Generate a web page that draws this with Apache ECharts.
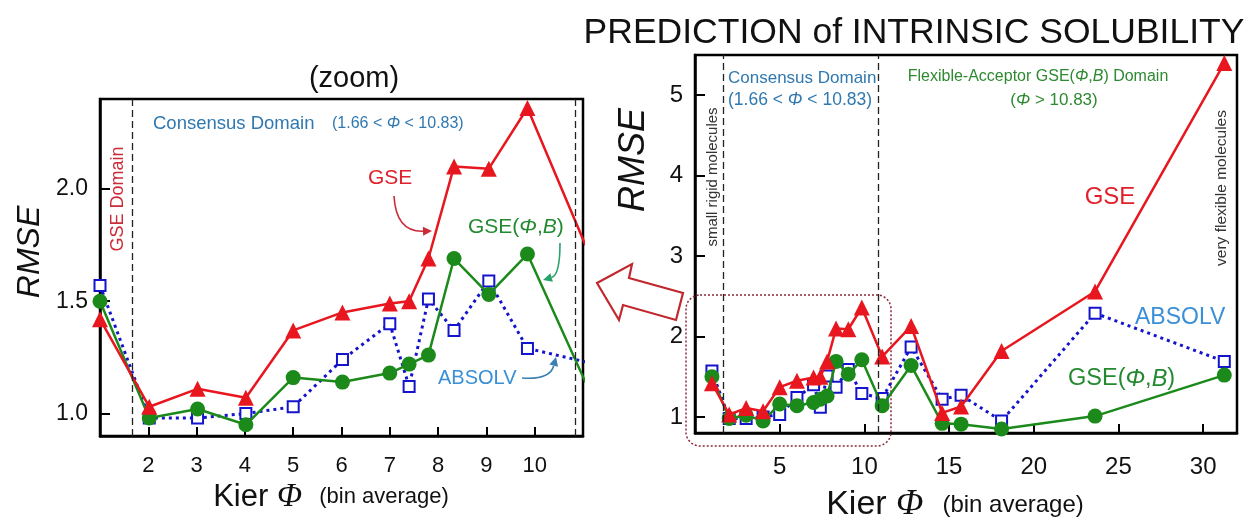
<!DOCTYPE html>
<html><head><meta charset="utf-8">
<script src="https://cdn.jsdelivr.net/npm/echarts@6/dist/echarts.min.js"></script>
<style>html,body{margin:0;padding:0;background:#fff}#c{width:1251px;height:523px}</style>
</head><body><div id="c"></div>
<script>
// ---- data ----
const kierPhi = [1.0, 2.02, 3.02, 4.02, 5.0, 6.02, 7.0, 7.4, 7.8, 8.33, 9.05, 9.85, 11.05, 12.76, 14.59, 15.71, 18.1, 23.62, 31.25];
const gse     = [1.42, 1.03, 1.11, 1.07, 1.37, 1.45, 1.49, 1.50, 1.69, 2.10, 2.09, 2.36, 1.75, 2.13, 1.05, 1.13, 1.82, 2.56, 5.40];
const absolv  = [1.57, 0.98, 0.98, 1.00, 1.03, 1.24, 1.40, 1.12, 1.51, 1.37, 1.59, 1.29, 1.23, 1.87, 1.22, 1.27, 0.95, 2.29, 1.69];
const gsePhiB = [1.50, 0.98, 1.02, 0.95, 1.16, 1.14, 1.18, 1.22, 1.26, 1.69, 1.53, 1.71, 1.14, 1.64, 0.92, 0.91, 0.85, 1.01, 1.52];
const leftXTicks  = [2, 3, 4, 5, 6, 7, 8, 9, 10];
const leftYTicks  = [1.0, 1.5, 2.0];
const rightXTicks = [5, 10, 15, 20, 25, 30];
const rightYTicks = [1, 2, 3, 4, 5];
const domainBounds = [1.66, 10.83];

const FONT = 'Liberation Sans, Arial, sans-serif';
const RED = '#e8161e', BLUE = '#1414cc', GREEN = '#1b8a1b';

function pairs(ys){ return kierPhi.map((x,i)=>[x, ys[i]]); }

function axisX(idx, min, max, ticks, fs, margin){
  return {type:'value', gridIndex:idx, min, max,
    axisLine:{show:true, onZero:false, lineStyle:{color:'#000', width:2.5}},
    splitLine:{show:false},
    axisTick:{show:true, inside:true, length:9, customValues:ticks, lineStyle:{color:'#000', width:2}},
    axisLabel:{customValues:ticks, fontSize:fs, fontFamily:FONT, color:'#111', margin}};
}
function axisY(idx, min, max, ticks, fs, margin, fmt){
  return {type:'value', gridIndex:idx, min, max,
    axisLine:{show:true, onZero:false, lineStyle:{color:'#000', width:2.5}},
    splitLine:{show:false},
    axisTick:{show:true, inside:true, length:10, customValues:ticks, lineStyle:{color:'#000', width:2}},
    axisLabel:{customValues:ticks, fontSize:fs, fontFamily:FONT, color:'#111', margin, formatter:fmt}};
}
function mkSeries(idx){
  const base = {type:'line', xAxisIndex:idx, yAxisIndex:idx, clip:true, silent:true, animation:false};
  return [
    Object.assign({}, base, {name:'ABSOLV', data:pairs(absolv), symbol:'rect', symbolSize:11,
      itemStyle:{color:'#fff', borderColor:BLUE, borderWidth:2},
      lineStyle:{color:BLUE, width:3, type:[3,4]}, z:2}),
    Object.assign({}, base, {name:'GSE(Phi,B)', data:pairs(gsePhiB), symbol:'circle', symbolSize:15,
      itemStyle:{color:GREEN}, lineStyle:{color:GREEN, width:2.5}, z:3,
      markLine:{silent:true, symbol:['none','none'], label:{show:false}, animation:false,
        lineStyle:{type:[7,4], color:'#222', width:1.3},
        data: domainBounds.map(v=>({xAxis:v}))}}),
    Object.assign({}, base, {name:'GSE', data:pairs(gse), symbol:'triangle', symbolSize:16,
      itemStyle:{color:RED}, lineStyle:{color:RED, width:2.5}, z:4})
  ];
}

function txt(x, y, text, size, color, o){
  o = o || {};
  const rich = {
    i:{fontStyle:'italic', fontSize:o.isize||size, fontFamily:o.ifam||FONT, fill:color},
    s:{fontSize:o.ssize||size, fontFamily:FONT, fill:color},
    n:{fontSize:size, fontFamily:FONT, fill:color, fontStyle:o.italic?'italic':'normal'}
  };
  return {type:'text', x, y, rotation:o.rot||0, z:10,
    style:{text, x:0, y:0, fontSize:size, fontFamily:FONT, fontStyle:o.italic?'italic':'normal',
      fill:color, align:o.align||'center', verticalAlign:'middle',
      textAlign:o.align||'center', textVerticalAlign:'middle', rich}};
}
function curvedArrow(x1,y1,cx,cy,x2,y2,color){
  const dx=x2-cx, dy=y2-cy, L=Math.hypot(dx,dy), ux=dx/L, uy=dy/L;
  const hl=9, hw=4.5, bx=x2-ux*hl, by=y2-uy*hl, px=-uy, py=ux;
  return [
    {type:'bezierCurve', z:10, shape:{x1,y1,x2:bx,y2:by,cpx1:cx,cpy1:cy}, style:{stroke:color, lineWidth:1.6, fill:null}},
    {type:'polygon', z:10, shape:{points:[[x2,y2],[bx+px*hw,by+py*hw],[bx-px*hw,by-py*hw]]}, style:{fill:color}}
  ];
}

const PHI_SERIF = 'Liberation Serif, serif';
const graphics = [
  txt(354, 79, '(zoom)', 29, '#111'),
  txt(914, 33, 'PREDICTION of INTRINSIC SOLUBILITY', 35.5, '#111'),
  txt(30, 252, 'RMSE', 32, '#111', {rot:Math.PI/2, italic:true}),
  txt(634, 160, 'RMSE', 36, '#111', {rot:Math.PI/2, italic:true}),
  txt(331, 497, 'Kier {i|Φ}  {s|(bin average)}', 31, '#111', {isize:33, ifam:PHI_SERIF, ssize:22}),
  txt(955, 505, 'Kier {i|Φ}  {s|(bin average)}', 34, '#111', {isize:36, ifam:PHI_SERIF, ssize:24}),
  // left panel annotations
  txt(118, 199, 'GSE Domain', 18, '#cc2b38', {rot:Math.PI/2}),
  txt(153, 124, 'Consensus Domain', 18.5, '#2f78b0', {align:'left'}),
  txt(332, 124, '(1.66 < {i|Φ} < 10.83)', 16, '#2f78b0', {align:'left'}),
  txt(368, 178, 'GSE', 21, '#e0202a', {align:'left'}),
  txt(468, 227, 'GSE({i|Φ},{i|B})', 21, '#238a30', {align:'left'}),
  txt(438, 378, 'ABSOLV', 20, '#3a8fd6', {align:'left'}),
  // right panel annotations
  txt(728, 78, 'Consensus Domain', 17, '#2f78b0', {align:'left'}),
  txt(728, 100, '(1.66 < {i|Φ} < 10.83)', 17.5, '#2f78b0', {align:'left'}),
  txt(713, 177, 'small rigid molecules', 15, '#333', {rot:Math.PI/2}),
  txt(1038, 77, 'Flexible-Acceptor GSE({i|Φ},{i|B}) Domain', 16, '#2d8a30'),
  txt(1054, 100, '({i|Φ} > 10.83)', 17, '#2d8a30'),
  txt(1222, 188, 'very flexible molecules', 15.5, '#333', {rot:Math.PI/2}),
  txt(1110, 197, 'GSE', 24, '#e0202a'),
  txt(1135, 318, 'ABSOLV', 23, '#3a8fd6', {align:'left'}),
  txt(1068, 379, 'GSE({i|Φ},{i|B})', 23.5, '#238a30', {align:'left'}),
  // zoom box and big arrow
  {type:'rect', z:1, shape:{x:686, y:295, width:205, height:151, r:14},
    style:{fill:null, stroke:'#8c2a3a', lineWidth:1.5, lineDash:[2,2]}},
  {type:'polygon', z:10, shape:{points:[[597,283],[632,264],[629,278],[683,293],[676,320],[623,305],[619,320]]},
    style:{fill:'#fff', stroke:'#c0282e', lineWidth:2.2}}
].concat(
  curvedArrow(394,196, 396,232, 432,231, '#cc2b38'),
  curvedArrow(560,243, 560,275, 543,280, '#2aa06a'),
  curvedArrow(522,378, 550,380, 556,357, '#3a7fb0')
);

const chart = echarts.init(document.getElementById('c'), null, {renderer:'canvas'});
chart.setOption({
  animation:false,
  backgroundColor:'#fff',
  grid:[
    {left:100, top:99, width:483, height:337, show:true, borderColor:'#000', borderWidth:2.5, backgroundColor:'transparent'},
    {left:695, top:55, width:542, height:378, show:true, borderColor:'#000', borderWidth:2.5, backgroundColor:'transparent'}
  ],
  xAxis:[ axisX(0, 1, 11, leftXTicks, 22, 19), axisX(1, 0, 32, rightXTicks, 24, 22) ],
  yAxis:[ axisY(0, 0.9, 2.4, leftYTicks, 23, 12, v=>v.toFixed(1)), axisY(1, 0.8, 5.5, rightYTicks, 24, 12, v=>String(Math.round(v))) ],
  series: mkSeries(0).concat(mkSeries(1)),
  graphic: graphics
});
</script></body></html>
